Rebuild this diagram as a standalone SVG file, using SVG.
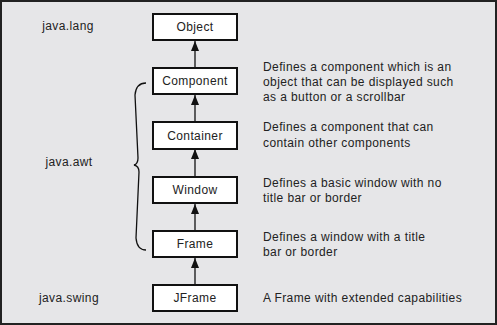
<svg xmlns="http://www.w3.org/2000/svg" width="497" height="325" viewBox="0 0 497 325">
<style>
text{font-family:"Liberation Sans",Arial,sans-serif;font-size:12px;fill:#222;letter-spacing:0.4px}
.box{fill:#fff;stroke:#111;stroke-width:2}
.lbl{text-anchor:middle}
.conn{stroke:#111;stroke-width:1.3;fill:none}
</style>
<defs>
<marker id="tri" viewBox="0 0 10 8" refX="10" refY="4" markerWidth="10" markerHeight="8" markerUnits="userSpaceOnUse" orient="auto">
<path d="M0,0 L10,4 L0,8 Z" fill="#111"/>
</marker>
</defs>
<rect x="1" y="1" width="495" height="323" fill="#e6e6e8" stroke="#222" stroke-width="2"/>
<g id="connectors">
<line class="conn" x1="195" y1="68" x2="195" y2="41" marker-end="url(#tri)"/>
<line class="conn" x1="195" y1="122" x2="195" y2="95" marker-end="url(#tri)"/>
<line class="conn" x1="195" y1="177" x2="195" y2="149" marker-end="url(#tri)"/>
<line class="conn" x1="195" y1="231" x2="195" y2="204" marker-end="url(#tri)"/>
<line class="conn" x1="195" y1="285" x2="195" y2="258" marker-end="url(#tri)"/>
</g>
<g id="brace">
<path class="conn" d="M146,83 Q136,83 135,95 L138,158 Q138,164 134,165 Q139,166 139,172 L136,238 Q137,250 146,250"/>
</g>
<g id="pkg-lang"><text class="lbl" x="68" y="30">java.lang</text></g>
<g id="pkg-awt"><text class="lbl" x="69" y="166">java.awt</text></g>
<g id="pkg-swing"><text class="lbl" x="69" y="302">java.swing</text></g>
<g id="Object"><rect class="box" x="153" y="14" width="84" height="26"/><text class="lbl" x="195" y="31">Object</text></g>
<g id="Component"><rect class="box" x="153" y="68" width="84" height="26"/><text class="lbl" x="195" y="85">Component</text></g>
<g id="Container"><rect class="box" x="153" y="122" width="84" height="27"/><text class="lbl" x="195" y="140">Container</text></g>
<g id="Window"><rect class="box" x="153" y="177" width="84" height="26"/><text class="lbl" x="195" y="194">Window</text></g>
<g id="Frame"><rect class="box" x="153" y="231" width="84" height="26"/><text class="lbl" x="195" y="248">Frame</text></g>
<g id="JFrame"><rect class="box" x="153" y="285" width="84" height="26"/><text class="lbl" x="195" y="302">JFrame</text></g>
<g id="desc-component"><text x="263" y="71">Defines a component which is an</text><text x="263" y="86">object that can be displayed such</text><text x="263" y="101">as a button or a scrollbar</text></g>
<g id="desc-container"><text x="263" y="131">Defines a component that can</text><text x="263" y="147">contain other components</text></g>
<g id="desc-window"><text x="263" y="187">Defines a basic window with no</text><text x="263" y="202">title bar or border</text></g>
<g id="desc-frame"><text x="263" y="241">Defines a window with a title</text><text x="263" y="256">bar or border</text></g>
<g id="desc-jframe"><text x="263" y="302">A Frame with extended capabilities</text></g>
</svg>
